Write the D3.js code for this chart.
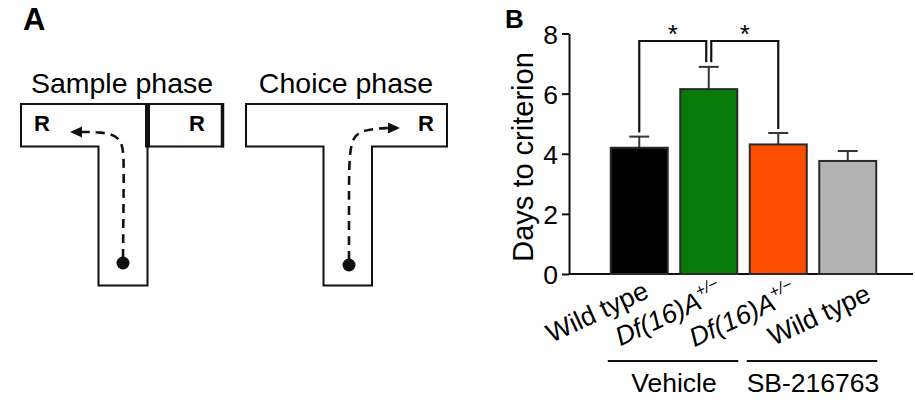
<!DOCTYPE html>
<html>
<head>
<meta charset="utf-8">
<script src="https://cdn.jsdelivr.net/npm/d3@7/dist/d3.min.js"></script>
<style>
  html, body { margin: 0; padding: 0; background: #fff; }
  svg { display: block; }
  text { font-family: "Liberation Sans", Arial, Helvetica, sans-serif; fill: #000; }
</style>
</head>
<body>
<svg id="chart" width="915" height="401"></svg>
<script>
// ---------------- data ----------------
const genotypes  = ["Wild type", "Df(16)A", "Df(16)A", "Wild type"];
const treatments = ["Vehicle", "Vehicle", "SB-216763", "SB-216763"];
const means      = [4.20, 6.15, 4.31, 3.76];
const sems       = [0.37, 0.74, 0.38, 0.33];
const barColors  = ["#000000", "#077a07", "#ff4d00", "#b3b3b3"];
const yTicks     = [0, 2, 4, 6, 8];
const yLabel     = "Days to criterion";
const sigPairs   = [[0, 1], [2, 1]];
const sigLabel   = "*";
const phaseTitles = ["Sample phase", "Choice phase"];

// ---------------- setup ----------------
const svg = d3.select("#chart");
const black = "#111";

// ================= Panel A =================
svg.append("text").attr("x", 23).attr("y", 30)
  .attr("font-size", 31).attr("font-weight", "bold").text("A");

function drawMaze(g, cfg) {
  const {left, right, top, armBottom, stemL, stemR, stemBottom} = cfg;
  g.append("path")
    .attr("d", `M${left},${top} H${right} V${armBottom} H${stemR} V${stemBottom} H${stemL} V${armBottom} H${left} Z`)
    .attr("fill", "#fff").attr("stroke", black).attr("stroke-width", 2);
}
function drawArrow(g, pts, dir) {
  const line = d3.line().curve(d3.curveBasis);
  g.append("path").attr("d", line(pts))
    .attr("fill", "none").attr("stroke", black).attr("stroke-width", 2.6)
    .attr("stroke-dasharray", "9,6");
  const tip = pts[pts.length - 1];
  const s = dir; // -1 left, +1 right
  g.append("path")
    .attr("d", `M${tip[0] + s * 12},${tip[1]} L${tip[0]},${tip[1] - 5.5} L${tip[0]},${tip[1] + 5.5} Z`)
    .attr("fill", black);
}

// left maze (sample phase)
const gA1 = svg.append("g");
drawMaze(gA1, {left: 21, right: 223, top: 104, armBottom: 146.5, stemL: 98.5, stemR: 147.5, stemBottom: 285.5});
gA1.append("line").attr("x1", 147.5).attr("x2", 147.5).attr("y1", 103).attr("y2", 147.5)
  .attr("stroke", black).attr("stroke-width", 5);
gA1.append("line").attr("x1", 222.5).attr("x2", 222.5).attr("y1", 103).attr("y2", 147.5)
  .attr("stroke", black).attr("stroke-width", 3.5);
gA1.append("text").attr("x", 42).attr("y", 131).attr("text-anchor", "middle")
  .attr("font-size", 22).attr("font-weight", "bold").text("R");
gA1.append("text").attr("x", 197).attr("y", 131).attr("text-anchor", "middle")
  .attr("font-size", 22).attr("font-weight", "bold").text("R");
drawArrow(gA1, [[123, 258], [123.5, 200], [124, 160], [122, 136], [100, 132], [82, 132]], -1);
gA1.append("circle").attr("cx", 123).attr("cy", 263).attr("r", 6.5).attr("fill", black);
svg.append("text").attr("x", 122).attr("y", 93).attr("text-anchor", "middle")
  .attr("font-size", 28.5).text(phaseTitles[0]);

// right maze (choice phase)
const gA2 = svg.append("g");
drawMaze(gA2, {left: 246, right: 447, top: 104, armBottom: 146.5, stemL: 323.5, stemR: 372, stemBottom: 285.5});
gA2.append("text").attr("x", 426).attr("y", 131).attr("text-anchor", "middle")
  .attr("font-size", 22).attr("font-weight", "bold").text("R");
drawArrow(gA2, [[349, 260], [349, 200], [349, 162], [352, 134], [370, 129], [388, 128]], 1);
gA2.append("circle").attr("cx", 349).attr("cy", 265).attr("r", 6.5).attr("fill", black);
svg.append("text").attr("x", 346).attr("y", 93).attr("text-anchor", "middle")
  .attr("font-size", 28.5).text(phaseTitles[1]);

// ================= Panel B =================
svg.append("text").attr("x", 505).attr("y", 28)
  .attr("font-size", 26).attr("font-weight", "bold").text("B");

const axisX = 569;
const y = d3.scaleLinear().domain([0, 8]).range([274, 33.5]);
const idx = d3.range(means.length);
const x = d3.scaleBand().domain(idx).range([604.5, 882.5]).paddingInner(0.18).paddingOuter(0.09);
const bw = x.bandwidth();
const cx = i => x(i) + bw / 2;

// y axis
const yAxis = d3.axisLeft(y).tickValues(yTicks).tickSize(7).tickPadding(4).tickSizeOuter(0);
const gy = svg.append("g").attr("transform", `translate(${axisX},0)`).call(yAxis);
gy.select(".domain").attr("stroke", black).attr("stroke-width", 2);
gy.selectAll(".tick line").attr("stroke", black).attr("stroke-width", 2);
gy.selectAll(".tick text").attr("font-size", 26.5)
  .attr("font-family", "'Liberation Sans', Arial, sans-serif").attr("fill", "#000").attr("dy", "0.36em");

// x axis baseline
svg.append("line").attr("x1", axisX).attr("x2", 913).attr("y1", y(0)).attr("y2", y(0))
  .attr("stroke", black).attr("stroke-width", 2);

// y label
svg.append("text").attr("transform", `translate(533,157) rotate(-90)`)
  .attr("text-anchor", "middle").attr("font-size", 29).text(yLabel);

// error bars
const capW = 20;
const ge = svg.append("g");
idx.forEach(i => {
  ge.append("line").attr("x1", cx(i)).attr("x2", cx(i))
    .attr("y1", y(means[i])).attr("y2", y(means[i] + sems[i]))
    .attr("stroke", "#333").attr("stroke-width", 2);
  ge.append("line").attr("x1", cx(i) - capW / 2).attr("x2", cx(i) + capW / 2)
    .attr("y1", y(means[i] + sems[i])).attr("y2", y(means[i] + sems[i]))
    .attr("stroke", "#333").attr("stroke-width", 2);
});

// bars
svg.append("g").selectAll("rect").data(idx).join("rect")
  .attr("x", i => x(i)).attr("width", bw)
  .attr("y", i => y(means[i])).attr("height", i => y(0) - y(means[i]))
  .attr("fill", i => barColors[i]).attr("stroke", "#2a2a2a").attr("stroke-width", 2);

// significance brackets
const bracketTop = y(7.75);
const gs = svg.append("g");
sigPairs.forEach(([a, b]) => {
  const dir = Math.sign(cx(b) - cx(a));
  const xa = cx(a);
  const xb = cx(b) - dir * 2.5;
  const ya = y(means[a] + sems[a]) - 4;
  const yb = y(means[b] + sems[b]) - 4.5;
  gs.append("path").attr("d", `M${xa},${ya} V${bracketTop} H${xb} V${yb}`)
    .attr("fill", "none").attr("stroke", black).attr("stroke-width", 2.2);
  gs.append("text").attr("x", (xa + xb) / 2).attr("y", bracketTop + 2)
    .attr("text-anchor", "middle").attr("font-size", 26).text(sigLabel);
});

// x tick labels (rotated)
const gl = svg.append("g");
idx.forEach(i => {
  const ax = cx(i) + 11 + i * 4.5;
  const t = gl.append("text")
    .attr("transform", `translate(${ax},${297 + i * 1}) rotate(-25)`)
    .attr("text-anchor", "end").attr("font-size", 26.5);
  if (genotypes[i] === "Df(16)A") {
    t.append("tspan").attr("font-style", "italic").text("Df(16)A");
    t.append("tspan").attr("font-style", "italic").attr("font-size", 16)
      .attr("dy", "-0.75em").text("+/\u2212");
  } else {
    t.text(genotypes[i]);
  }
});

// treatment groups
const groups = Array.from(d3.group(idx, i => treatments[i]), ([k, v]) => ({k, first: d3.min(v), last: d3.max(v)}));
groups.forEach(g => {
  const x1 = x(g.first) - 3, x2 = x(g.last) + bw + 1;
  svg.append("line").attr("x1", x1).attr("x2", x2).attr("y1", 361).attr("y2", 361)
    .attr("stroke", black).attr("stroke-width", 1.8);
  svg.append("text").attr("x", (x1 + x2) / 2 + 1).attr("y", 392)
    .attr("text-anchor", "middle").attr("font-size", 26.5).text(g.k);
});
</script>
</body>
</html>
